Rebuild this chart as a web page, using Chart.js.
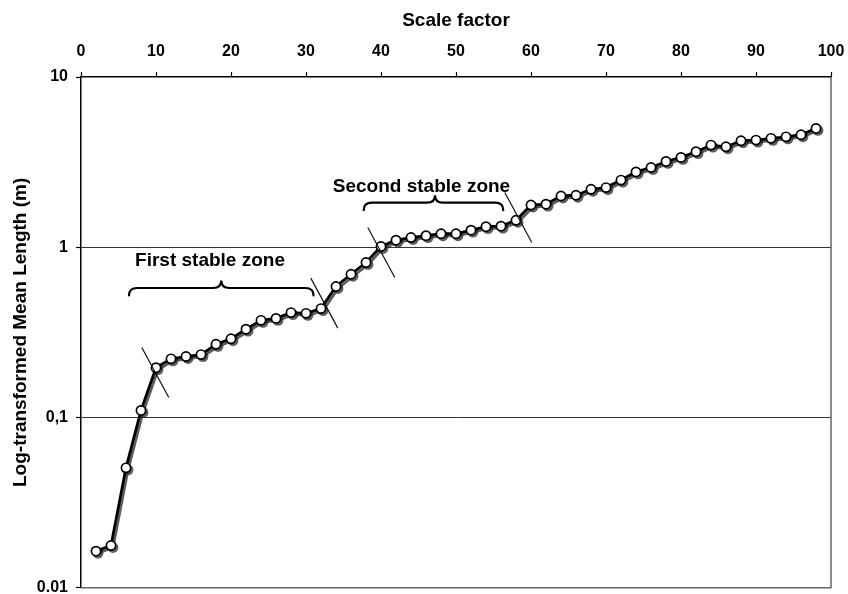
<!DOCTYPE html>
<html>
<head>
<meta charset="utf-8">
<script src="https://cdn.jsdelivr.net/npm/chart.js@4.4.1/dist/chart.umd.min.js"></script>
<style>
html,body{margin:0;padding:0;background:#fff;}
#wrap{width:848px;height:594px;}
</style>
</head>
<body>
<div id="wrap"><canvas id="c" width="848" height="594"></canvas></div>
<script>
// ---- data ----
const scaleFactor = [2,4,6,8,10,12,14,16,18,20,22,24,26,28,30,32,34,36,38,40,42,44,46,48,50,52,54,56,58,60,62,64,66,68,70,72,74,76,78,80,82,84,86,88,90,92,94,96,98];
const meanLength = [0.0164,0.0177,0.0506,0.110,0.196,0.221,0.228,0.234,0.269,0.290,0.330,0.372,0.382,0.413,0.409,0.436,0.588,0.694,0.813,1.01,1.10,1.14,1.17,1.20,1.20,1.26,1.32,1.33,1.44,1.77,1.79,2.00,2.02,2.19,2.24,2.48,2.77,2.94,3.19,3.37,3.64,3.98,3.89,4.22,4.26,4.36,4.45,4.58,4.99];
const xTickValues = [0,10,20,30,40,50,60,70,80,90,100];
const yTickValues = [0.01,0.1,1,10];
const yTickLabels = ['0.01','0,1','1','10'];
const xTitle = 'Scale factor';
const yTitle = 'Log-transformed Mean Length (m)';
const zoneNames = ['First stable zone','Second stable zone'];
const breakAt = [10,32,40,58];

// ---- annotation layout (data coordinates) ----
const zoneLayout = [
  {from:6.4, to:31.0, tip:18.7, y:0.576, labelX:17.2, labelY:0.828},
  {from:37.7, to:56.3, tip:47.2, y:1.826, labelX:45.4, labelY:2.27}
];
const breakOffsets = [[-0.7,4.7],[3.3,-5.5],[0.3,6],[2.3,-2.7]];

const FONT = "'Liberation Sans', Arial, Helvetica, sans-serif";

// drop shadow drawn from the element positions computed by Chart.js
const shadowPlugin = {
  id:'shadow',
  beforeDatasetDraw(chart, args){
    const meta = args.meta;
    const pts = meta.data;
    const ctx = chart.ctx;
    const d = 2;
    ctx.save();
    ctx.strokeStyle = 'rgba(40,40,40,0.75)';
    ctx.fillStyle = 'rgba(40,40,40,0.75)';
    ctx.lineWidth = 2.8;
    ctx.lineJoin = 'round';
    ctx.beginPath();
    pts.forEach((p, i) => { if (i === 0) ctx.moveTo(p.x + d, p.y + d); else ctx.lineTo(p.x + d, p.y + d); });
    ctx.stroke();
    pts.forEach(p => {
      ctx.beginPath();
      ctx.arc(p.x + d, p.y + d, 5.4, 0, Math.PI * 2);
      ctx.fill();
    });
    ctx.restore();
  }
};

const annotPlugin = {
  id:'annot',
  afterDatasetsDraw(chart){
    const ctx = chart.ctx;
    const xs = chart.scales.x, ys = chart.scales.y;
    const ca = chart.chartArea;
    ctx.save();
    // right and bottom frame
    ctx.strokeStyle = '#666';
    ctx.lineWidth = 1.5;
    ctx.beginPath();
    ctx.moveTo(ca.right, ca.top);
    ctx.lineTo(ca.right, ca.bottom);
    ctx.lineTo(ca.left, ca.bottom);
    ctx.stroke();

    // break lines
    ctx.strokeStyle = '#111';
    ctx.lineWidth = 1.2;
    breakAt.forEach((bx, i) => {
      const idx = scaleFactor.indexOf(bx);
      const px = xs.getPixelForValue(bx) + breakOffsets[i][0];
      const py = ys.getPixelForValue(meanLength[idx]) + breakOffsets[i][1];
      ctx.beginPath();
      ctx.moveTo(px - 13.5, py - 25);
      ctx.lineTo(px + 13.5, py + 25);
      ctx.stroke();
    });

    // braces and labels
    ctx.strokeStyle = '#000';
    ctx.lineWidth = 2.2;
    ctx.lineCap = 'round';
    zoneLayout.forEach((z, i) => {
      const x0 = xs.getPixelForValue(z.from);
      const x1 = xs.getPixelForValue(z.to);
      const xm = xs.getPixelForValue(z.tip);
      const y = ys.getPixelForValue(z.y);
      const h = 7.5, r = 8;
      ctx.beginPath();
      ctx.moveTo(x0, y + h);
      ctx.quadraticCurveTo(x0, y, x0 + r, y);
      ctx.lineTo(xm - r, y);
      ctx.quadraticCurveTo(xm, y, xm, y - h);
      ctx.quadraticCurveTo(xm, y, xm + r, y);
      ctx.lineTo(x1 - r, y);
      ctx.quadraticCurveTo(x1, y, x1, y + h);
      ctx.stroke();

      ctx.fillStyle = '#000';
      ctx.font = 'bold 19px ' + FONT;
      ctx.textAlign = 'center';
      ctx.textBaseline = 'middle';
      ctx.fillText(zoneNames[i], xs.getPixelForValue(z.labelX), ys.getPixelForValue(z.labelY));
    });
    ctx.restore();
  }
};

new Chart(document.getElementById('c'), {
  type:'line',
  data:{
    datasets:[{
      data: scaleFactor.map((x,i)=>({x:x, y:meanLength[i]})),
      borderColor:'#000',
      borderWidth:2.8,
      tension:0,
      pointRadius:4.6,
      pointBorderWidth:1.7,
      pointBackgroundColor:'#fff',
      pointBorderColor:'#000',
      clip:false
    }]
  },
  options:{
    responsive:false,
    animation:false,
    devicePixelRatio:1,
    layout:{padding:{left:0,top:0,right:17,bottom:1}},
    plugins:{legend:{display:false}, tooltip:{enabled:false}},
    scales:{
      x:{
        type:'linear',
        position:'top',
        min:0, max:100,
        afterBuildTicks(s){ s.ticks = xTickValues.map(v=>({value:v})); },
        afterFit(s){ s.height = 77; s.paddingLeft = 0; s.paddingRight = 0; },
        ticks:{
          color:'#000',
          font:{family:FONT, size:16, weight:'bold'},
          padding:11,
          maxRotation:0,
          autoSkip:false
        },
        grid:{drawOnChartArea:false, tickLength:5, tickColor:'#000', tickWidth:1.2},
        border:{color:'#000', width:1.5},
        title:{display:true, text:xTitle, color:'#000', font:{family:FONT, size:19, weight:'bold'}, padding:{top:9,bottom:0}}
      },
      y:{
        type:'logarithmic',
        min:0.01, max:10,
        afterBuildTicks(s){ s.ticks = yTickValues.map(v=>({value:v})); },
        afterFit(s){ s.width = 81; s.paddingTop = 0; s.paddingBottom = 0; },
        ticks:{
          color:'#000',
          font:{family:FONT, size:16, weight:'bold'},
          padding:8,
          autoSkip:false,
          callback(v){ const i = yTickValues.indexOf(v); return i>=0 ? yTickLabels[i] : ''; }
        },
        grid:{
          color(ctx){ const v = ctx.tick && ctx.tick.value; return (v===1 || v===0.1) ? '#333' : 'rgba(0,0,0,0)'; },
          lineWidth:1,
          borderDash:[1.5,1.5],
          tickLength:5,
          tickColor:'#000',
          tickWidth:1.2,
          tickBorderDash:[]
        },
        border:{color:'#000', width:1.5},
        title:{display:true, text:yTitle, color:'#000', font:{family:FONT, size:19, weight:'bold'}, padding:{top:9,bottom:0}}
      }
    }
  },
  plugins:[shadowPlugin, annotPlugin]
});
</script>
</body>
</html>
